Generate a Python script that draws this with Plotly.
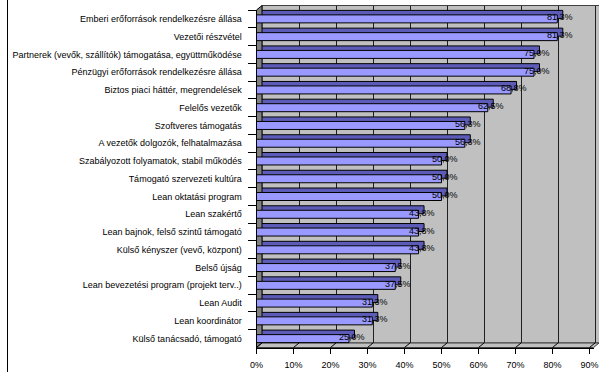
import plotly.graph_objects as go

categories = [
    "Emberi erőforrások rendelkezésre állása",
    "Vezetői részvétel",
    "Partnerek (vevők, szállítók) támogatása, együttműködése",
    "Pénzügyi erőforrások rendelkezésre állása",
    "Biztos piaci háttér, megrendelések",
    "Felelős vezetők",
    "Szoftveres támogatás",
    "A vezetők dolgozók, felhatalmazása",
    "Szabályozott folyamatok, stabil működés",
    "Támogató szervezeti kultúra",
    "Lean oktatási program",
    "Lean szakértő",
    "Lean bajnok, felső szintű támogató",
    "Külső kényszer (vevő, központ)",
    "Belső újság",
    "Lean bevezetési program (projekt terv..)",
    "Lean Audit",
    "Lean koordinátor",
    "Külső tanácsadó, támogató",
]
values = [0.813, 0.813, 0.750, 0.750, 0.688, 0.625, 0.563, 0.563, 0.500, 0.500,
          0.500, 0.438, 0.438, 0.438, 0.375, 0.375, 0.313, 0.313, 0.250]
x_ticks = [0.0, 0.1, 0.2, 0.3, 0.4, 0.5, 0.6, 0.7, 0.8, 0.9]
x_tick_labels = ["0%", "10%", "20%", "30%", "40%", "50%", "60%", "70%", "80%", "90%"]
value_labels = [f"{v * 100:.1f}%".replace(".", ",") for v in values]

W, H = 599, 372
FX0, FX1 = 256.5, 593.5      # front plane left/right (px)
DX, DY = 5.5, 4.5            # 3D depth offset
FY_TOP, FY_BOT = 10.0, 347.5
BX0, BX1 = FX0 + DX, FX1 + DX
BY_TOP, BY_BOT = FY_TOP - DY, FY_BOT - DY
XMAX = 0.9108


def px(x):
    return x / W


def py(y):
    return 1 - y / H


FONT = "Liberation Sans, Arial, sans-serif"
BAR_FRONT = "#9999FF"
BAR_BACK = "#5C5CB8"

fig = go.Figure()

# back plane (depth of bars)
fig.add_trace(go.Bar(
    y=categories, x=values, orientation="h", xaxis="x", yaxis="y",
    width=0.45, marker=dict(color=BAR_BACK, line=dict(color="#000000", width=1)),
    hoverinfo="skip", showlegend=False,
))
# front faces
fig.add_trace(go.Bar(
    y=categories, x=values, orientation="h", xaxis="x2", yaxis="y2",
    width=0.45, marker=dict(color=BAR_FRONT, line=dict(color="#000000", width=1)),
    hoverinfo="skip", showlegend=False,
))

shapes = []
# back wall
shapes.append(dict(type="rect", xref="paper", yref="paper", layer="below",
                   x0=px(BX0), x1=px(BX1) + 0.01, y0=py(BY_BOT), y1=py(BY_TOP),
                   fillcolor="#C0C0C0", line=dict(color="#404040", width=1)))
# left side wall
shapes.append(dict(type="path", xref="paper", yref="paper", layer="below",
                   path=(f"M {px(FX0)},{py(FY_TOP)} L {px(BX0)},{py(BY_TOP)} "
                         f"L {px(BX0)},{py(BY_BOT)} L {px(FX0)},{py(FY_BOT)} Z"),
                   fillcolor="#808080", line=dict(color="#000000", width=1)))
# floor
shapes.append(dict(type="path", xref="paper", yref="paper", layer="below",
                   path=(f"M {px(FX0)},{py(FY_BOT)} L {px(BX0)},{py(BY_BOT)} "
                         f"L {px(BX1)},{py(BY_BOT)} L {px(FX1)},{py(FY_BOT)} Z"),
                   fillcolor="#C0C0C0", line=dict(color="#404040", width=1)))
# floor diagonals at tick positions
scale = (FX1 - FX0) / XMAX
for t in x_ticks:
    fx = FX0 + t * scale
    shapes.append(dict(type="line", xref="paper", yref="paper", layer="below",
                       x0=px(fx), y0=py(FY_BOT), x1=px(fx + DX), y1=py(BY_BOT),
                       line=dict(color="#000000", width=1)))
# outer left border
shapes.append(dict(type="line", xref="paper", yref="paper",
                   x0=px(7.5), x1=px(7.5), y0=0, y1=1,
                   line=dict(color="#000000", width=1)))

annotations = []
for c, v, lab in zip(categories, values, value_labels):
    annotations.append(dict(x=v, y=c, xref="x2", yref="y2", text=lab,
                            showarrow=False, xshift=3, yshift=1.5,
                            font=dict(family=FONT, size=9, color="#000000")))

fig.update_layout(
    width=W, height=H, autosize=False,
    margin=dict(l=0, r=0, t=0, b=0),
    paper_bgcolor="#FFFFFF", plot_bgcolor="rgba(0,0,0,0)",
    font=dict(family=FONT, size=9, color="#000000"),
    barmode="overlay",
    shapes=shapes, annotations=annotations,
    xaxis=dict(domain=[px(BX0), px(BX1)], range=[0, XMAX], anchor="y",
               showgrid=True, gridcolor="#202020", gridwidth=1,
               tickvals=x_ticks, showticklabels=False, ticks="",
               zeroline=False, showline=False, fixedrange=True, automargin=False),
    yaxis=dict(domain=[py(BY_BOT), py(BY_TOP)], anchor="x", type="category",
               categoryorder="array", categoryarray=categories,
               autorange="reversed", showticklabels=False, showgrid=False,
               zeroline=False, showline=False, ticks="", fixedrange=True,
               automargin=False),
    xaxis2=dict(domain=[px(FX0), px(FX1)], range=[0, XMAX], anchor="y2",
                tickvals=x_ticks, ticktext=x_tick_labels, ticks="outside",
                ticklen=5, tickcolor="#000000", showline=True, linecolor="#000000",
                ticklabelstandoff=4,
                showgrid=False, zeroline=False, fixedrange=True, automargin=False,
                tickfont=dict(family=FONT, size=9, color="#000000")),
    yaxis2=dict(domain=[py(FY_BOT), py(FY_TOP)], anchor="x2", type="category",
                categoryorder="array", categoryarray=categories,
                autorange="reversed", tickson="boundaries", ticks="outside",
                ticklen=8, tickcolor="#000000", showline=True, linecolor="#000000",
                ticklabelstandoff=12,
                showgrid=False, zeroline=False, fixedrange=True, automargin=False,
                tickfont=dict(family=FONT, size=9, color="#000000")),
)

fig.write_html("out.html")
